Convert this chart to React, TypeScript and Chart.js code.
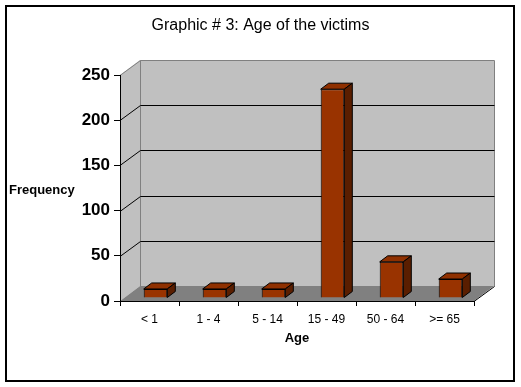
import React, { useEffect, useRef } from "react";
import { Chart, registerables } from "chart.js";

Chart.register(...registerables);

const TITLE = "Graphic # 3: Age of the victims";
const X_TITLE = "Age";
const Y_TITLE = "Frequency";
const categories = ["< 1", "1 - 4", "5 - 14", "15 - 49", "50 - 64", ">= 65"];
const frequencies = [10, 10, 10, 231, 40, 21];
const yMin = 0;
const yMax = 250;
const yStep = 50;

const FONT = "'Liberation Sans', Arial, Helvetica, sans-serif";
const DX = 20;
const DY = 15;
const BAR_SHIFT_X = 6;
const BAR_SHIFT_Y = -3;
const BAR_DX = 8;
const BAR_DY = 6;

const depthPlugin = {
  id: "depth3d",
  beforeDraw(chart: any) {
    const { ctx } = chart;
    const { left: L, right: R, top: T, bottom: B } = chart.chartArea;
    const ys = chart.scales.y;
    ctx.save();
    // outer frame
    ctx.strokeStyle = "#000";
    ctx.lineWidth = 2;
    ctx.strokeRect(6, 6, 508, 375);

    // left wall
    ctx.fillStyle = "#c0c0c0";
    ctx.beginPath();
    ctx.moveTo(L, T);
    ctx.lineTo(L + DX, T - DY);
    ctx.lineTo(L + DX, B - DY);
    ctx.lineTo(L, B);
    ctx.closePath();
    ctx.fill();
    // back wall
    ctx.fillRect(L + DX, T - DY, R - L, B - T);
    // floor
    ctx.fillStyle = "#808080";
    ctx.beginPath();
    ctx.moveTo(L, B);
    ctx.lineTo(L + DX, B - DY);
    ctx.lineTo(R + DX, B - DY);
    ctx.lineTo(R, B);
    ctx.closePath();
    ctx.fill();

    // wall outlines
    ctx.lineWidth = 1;
    ctx.strokeStyle = "#808080";
    ctx.beginPath();
    ctx.moveTo(L, T + 0.5);
    ctx.lineTo(L + DX + 0.5, T - DY + 0.5);
    ctx.lineTo(R + DX + 0.5, T - DY + 0.5);
    ctx.lineTo(R + DX + 0.5, B - DY + 0.5);
    ctx.moveTo(L + DX + 0.5, T - DY + 0.5);
    ctx.lineTo(L + DX + 0.5, B - DY + 0.5);
    ctx.stroke();

    // gridlines on walls
    ctx.strokeStyle = "#000";
    ys.ticks.forEach((t: any) => {
      if (t.value <= yMin || t.value >= yMax) return;
      const y = Math.round(ys.getPixelForValue(t.value)) + 0.5;
      ctx.beginPath();
      ctx.moveTo(L, y);
      ctx.lineTo(L + DX + 0.5, y - DY);
      ctx.lineTo(R + DX + 0.5, y - DY);
      ctx.stroke();
    });
    // floor right edge
    ctx.beginPath();
    ctx.moveTo(R, B + 0.5);
    ctx.lineTo(R + DX + 0.5, B - DY + 0.5);
    ctx.stroke();

    // unrotated y-axis title
    ctx.fillStyle = "#000";
    ctx.font = `bold 13px ${FONT}`;
    ctx.textAlign = "left";
    ctx.textBaseline = "middle";
    ctx.fillText(Y_TITLE, 9, 190);
    ctx.restore();
  },
  beforeDatasetsDraw(chart: any) {
    chart.ctx.save();
    chart.ctx.translate(BAR_SHIFT_X, BAR_SHIFT_Y);
  },
  afterDatasetsDraw(chart: any) {
    const { ctx } = chart;
    const meta = chart.getDatasetMeta(0);
    ctx.lineWidth = 1;
    ctx.strokeStyle = "#000";
    meta.data.forEach((bar: any) => {
      const p = bar.getProps(["x", "y", "base", "width"], true);
      const l = p.x - p.width / 2;
      const r = p.x + p.width / 2;
      const top = p.y;
      const bot = p.base;
      // top face
      ctx.fillStyle = "#8f3000";
      ctx.beginPath();
      ctx.moveTo(l, top);
      ctx.lineTo(l + BAR_DX, top - BAR_DY);
      ctx.lineTo(r + BAR_DX, top - BAR_DY);
      ctx.lineTo(r, top);
      ctx.closePath();
      ctx.fill();
      ctx.stroke();
      // side face
      ctx.fillStyle = "#5a1e00";
      ctx.beginPath();
      ctx.moveTo(r, top);
      ctx.lineTo(r + BAR_DX, top - BAR_DY);
      ctx.lineTo(r + BAR_DX, bot - BAR_DY);
      ctx.lineTo(r, bot);
      ctx.closePath();
      ctx.fill();
      ctx.stroke();
    });
    ctx.restore();
  },
};

export default function App() {
  const ref = useRef<HTMLCanvasElement | null>(null);
  useEffect(() => {
    if (!ref.current) return;
    const chart = new Chart(ref.current, {
      type: "bar",
      data: {
        labels: categories,
        datasets: [
          {
            data: frequencies,
            backgroundColor: "#993300",
            borderColor: "#000",
            borderWidth: 1,
            categoryPercentage: 1,
            barPercentage: 0.4,
            clip: false as any,
          },
        ],
      },
      options: {
        animation: false,
        responsive: false,
        devicePixelRatio: 1,
        layout: { padding: { top: 0, left: 0, right: 0, bottom: 0 } },
        plugins: {
          legend: { display: false },
          tooltip: { enabled: false },
          title: {
            display: true,
            text: TITLE,
            color: "#000",
            font: { family: FONT, size: 16, weight: "normal" as any },
            padding: { top: 16.4, bottom: 39.4 },
          },
        },
        scales: {
          x: {
            afterFit: (s: any) => {
              s.height = 86;
            },
            grid: {
              display: true,
              offset: true,
              drawOnChartArea: false,
              drawTicks: true,
              tickLength: 5,
              color: "#000",
            },
            border: { display: true, color: "#000", width: 1 },
            ticks: {
              color: "#000",
              font: { family: FONT, size: 12 },
              padding: 6,
              maxRotation: 0,
              autoSkip: false,
            },
            title: {
              display: true,
              text: X_TITLE,
              color: "#000",
              font: { family: FONT, size: 13, weight: "bold" as any },
              padding: { top: 0, bottom: 41.2 },
            },
          },
          y: {
            min: yMin,
            max: yMax,
            afterFit: (s: any) => {
              s.width = 120;
            },
            grid: {
              display: true,
              drawOnChartArea: false,
              drawTicks: true,
              tickLength: 6,
              color: "#000",
            },
            border: { display: true, color: "#000", width: 1 },
            ticks: {
              stepSize: yStep,
              color: "#000",
              font: { family: FONT, size: 17, weight: "bold" as any },
              padding: 4,
            },
          },
          yRight: {
            position: "right",
            min: yMin,
            max: yMax,
            afterFit: (s: any) => {
              s.width = 47;
            },
            grid: { display: false, drawOnChartArea: false, drawTicks: false },
            border: { display: false },
            ticks: { display: false },
          },
        },
      },
      plugins: [depthPlugin],
    });
    return () => chart.destroy();
  }, []);
  return (
    <div style={{ position: "absolute", left: 0, top: 0, width: 521, height: 387, background: "#fff" }}>
      <canvas ref={ref} width={521} height={387} />
    </div>
  );
}
